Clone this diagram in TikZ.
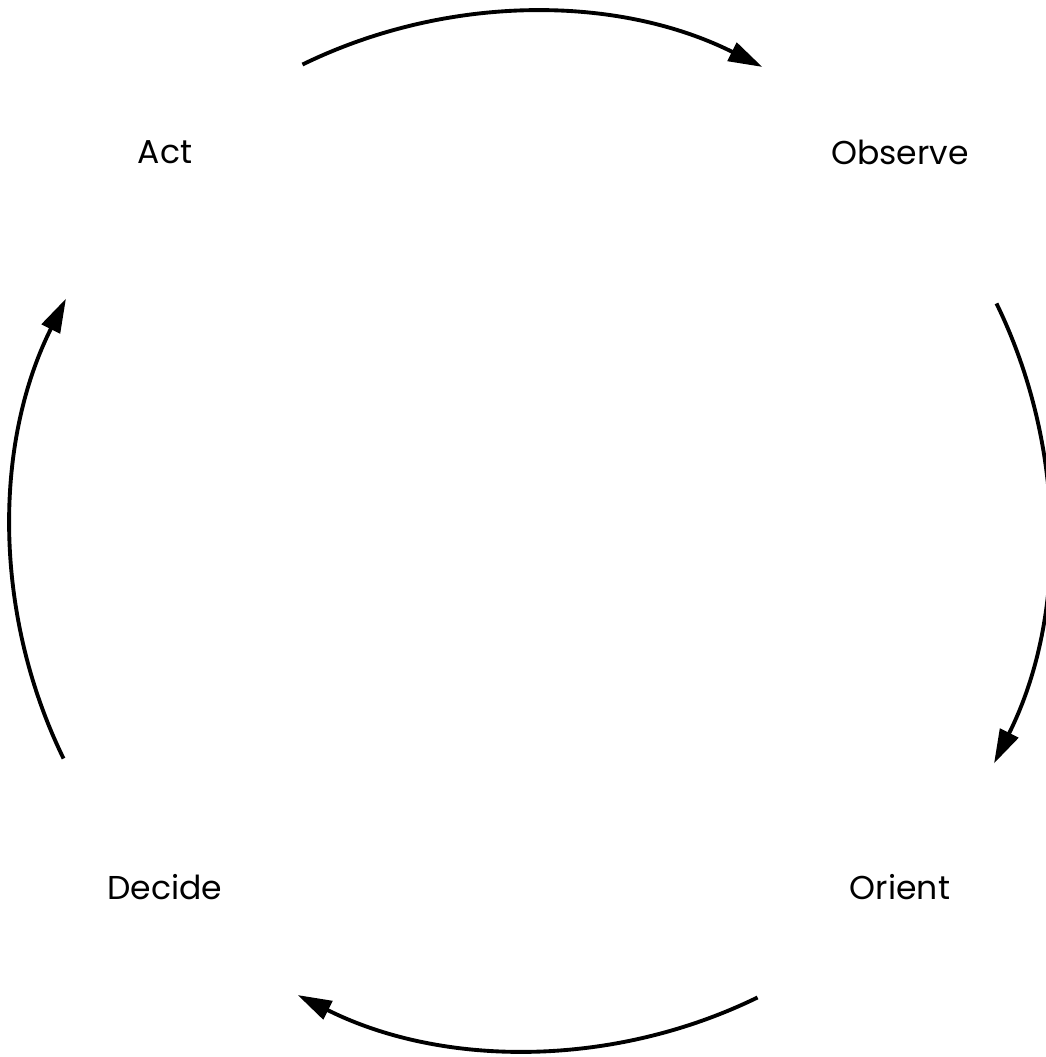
\documentclass[tikz,border=0pt]{standalone}
\usepackage{fontspec}
\setmainfont{Poppins}
\usepackage{tikz}
\usetikzlibrary{arrows.meta}

\begin{document}
\begin{tikzpicture}[>={Triangle[length=0.34cm,width=0.2cm]},
    cyclearc/.style={line width=1.1pt, ->},
    stage/.style={font=\fontsize{9.4}{11}\selectfont}]
    \useasboundingbox (0,0) rectangle (10.46,-10.57);

    % Centre of the loop
    \coordinate (C) at (5.30,-5.31);

    % The four stages
    \node[stage] (act) at (1.65,-1.52) {Act};
    \node[stage] (observe) at (9.00,-1.52) {Observe};
    \node[stage] (decide) at (1.65,-8.87) {Decide};
    \node[stage] (orient) at (9.00,-8.87) {Orient};

    % Arcs of the cycle, clockwise
    \draw[cyclearc] ([shift={(116:5.19)}]C) arc[start angle=116, end angle=63.4, radius=5.19];
    \draw[cyclearc] ([shift={(26:5.19)}]C) arc[start angle=26, end angle=-26.6, radius=5.19];
    \draw[cyclearc] ([shift={(-64:5.19)}]C) arc[start angle=-64, end angle=-116.6, radius=5.19];
    \draw[cyclearc] ([shift={(206:5.19)}]C) arc[start angle=206, end angle=153.4, radius=5.19];
\end{tikzpicture}
\end{document}
